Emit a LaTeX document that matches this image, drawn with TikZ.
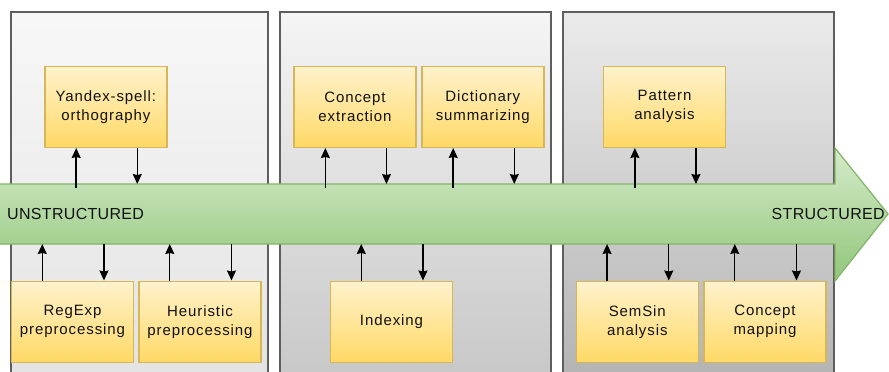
\documentclass[tikz,border=0pt]{standalone}
\usepackage{fontspec}
\setmainfont{Liberation Sans}
\usetikzlibrary{calc,arrows.meta}
\definecolor{boxtop}{HTML}{FFF2CC}
\definecolor{boxbot}{HTML}{FFD966}
\definecolor{boxline}{HTML}{D6B656}
\definecolor{grtop}{HTML}{D4EBCA}
\definecolor{grbot}{HTML}{92C67A}
\definecolor{grline}{HTML}{82B366}
\definecolor{panline}{HTML}{5E5E5E}
\definecolor{txt}{HTML}{111111}
\tikzset{
  panel/.style={draw=panline, line width=1.2pt},
  procbox/.style={draw=boxline, line width=1.4pt, top color=boxtop, bottom color=boxbot,
    minimum width=122pt, minimum height=81pt, inner sep=0pt, align=center, text=txt,
    font=\addfontfeature{LetterSpace=6}\fontsize{15}{19}\selectfont},
  arr/.style={line width=1.4pt, -{Stealth[length=10pt,width=9pt,inset=1pt]}},
  flowtxt/.style={text=txt, font=\addfontfeature{LetterSpace=2}\fontsize{16}{19}\selectfont, inner sep=0pt}
}
\newcommand\upperarrows[1]{%
  \coordinate (#1u) at ($(#1.south west)!0.26!(#1.south east)$);
  \coordinate (#1d) at ($(#1.south west)!0.755!(#1.south east)$);
  \draw[arr] (#1u |- bodytopin) -- (#1u);
  \draw[arr] (#1d) -- (#1d |- bodytop);}
\newcommand\lowerarrows[1]{%
  \coordinate (#1u) at ($(#1.north west)!0.255!(#1.north east)$);
  \coordinate (#1d) at ($(#1.north west)!0.755!(#1.north east)$);
  \draw[arr] (#1u) -- (#1u |- bodybot);
  \draw[arr] (#1d |- bodybot) -- (#1d);}
\begin{document}
\begin{tikzpicture}[x=1pt,y=-1pt]
\useasboundingbox (0,0) rectangle (889,372);
\clip (0,0) rectangle (889,372);
% panels
\path[panel, top color=white!97!black, bottom color=white!89!black] (11,12) rectangle (268,385);
\path[panel, top color=white!96!black, bottom color=white!78!black] (280,12) rectangle (551,385);
\path[panel, top color=white!92!black, bottom color=white!70!black] (563,12) rectangle (834,385);
% flow arrow
\path[draw=grline, line width=1.2pt, top color=grtop, bottom color=grbot]
  (-3,184) -- (835,184) -- (835,148) -- (888,214) -- (835,281) -- (835,244) -- (-3,244) -- cycle;
\coordinate (bodytop) at (0,184);
\coordinate (bodytopin) at (0,188);
\coordinate (bodybot) at (0,244);
\node[flowtxt, anchor=west] (uns) at (7,214) {UNSTRUCTURED};
\node[flowtxt, anchor=east] (str) at (885,214) {STRUCTURED};
% boxes
\node[procbox] (yan) at (105.8,106.8) {Yandex-spell:\\orthography};
\node[procbox] (cex) at (355,106.8) {Concept\\extraction};
\node[procbox] (dic) at (482.8,106.8) {Dictionary\\summarizing};
\node[procbox] (pat) at (664.5,106.8) {Pattern\\analysis};
\node[procbox] (reg) at (72.5,321.7) {RegExp\\preprocessing};
\node[procbox] (heu) at (200,321.7) {Heuristic\\preprocessing};
\node[procbox] (idx) at (391.5,321.7) {Indexing};
\node[procbox] (sem) at (637.3,321.7) {SemSin\\analysis};
\node[procbox] (cmp) at (765,321.7) {Concept\\mapping};
% connectors
\upperarrows{yan}
\upperarrows{cex}
\upperarrows{dic}
\upperarrows{pat}
\lowerarrows{reg}
\lowerarrows{heu}
\lowerarrows{idx}
\lowerarrows{sem}
\lowerarrows{cmp}
\end{tikzpicture}
\end{document}
